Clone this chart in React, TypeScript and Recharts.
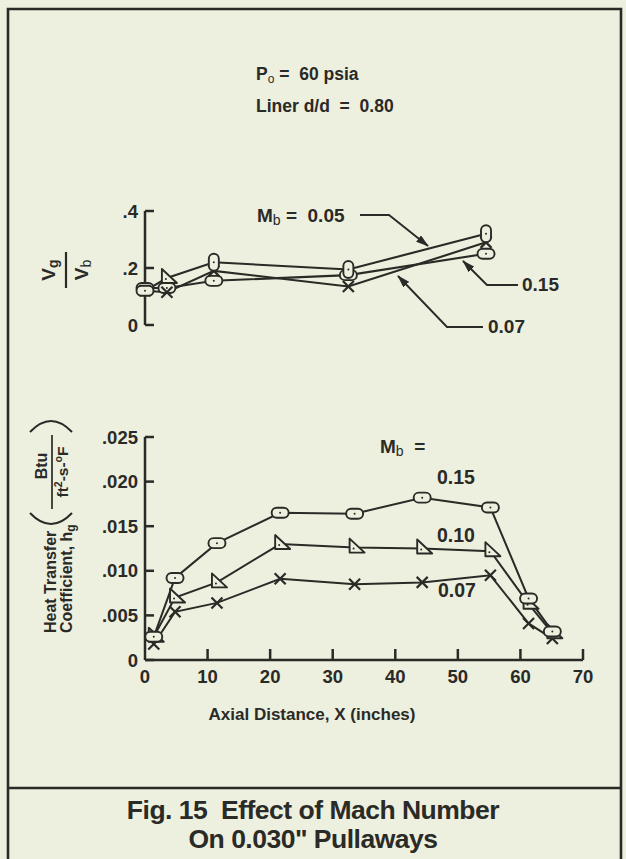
import React from 'react';
import { LineChart, Line, XAxis, YAxis } from 'recharts';

const INK = '#2a2a26';
const PAPER = '#edefdf';
const FONT = '"Liberation Sans", Arial, Helvetica, sans-serif';

// upper panel: Vg/Vb against axial distance
const topX = [0, 3.5, 11, 32.5, 54.5];
const topMb005 = [0.12, 0.165, 0.22, 0.195, 0.32];
const topMb007 = [0.12, 0.115, 0.19, 0.135, 0.29];
const topMb015 = [0.13, 0.13, 0.155, 0.175, 0.25];
const topYTicks = [0, 0.2, 0.4];

// lower panel: heat transfer coefficient hg
const botX = [1.4, 4.8, 11.5, 21.6, 33.5, 44.3, 55.2, 61.3, 65.1];
const botMb015 = [0.0026, 0.0092, 0.0131, 0.0165, 0.0164, 0.0182, 0.0171, 0.0069, 0.0032];
const botMb010 = [0.0026, 0.007, 0.0087, 0.013, 0.0126, 0.0125, 0.0122, 0.0063, 0.003];
const botMb007 = [0.0018, 0.0054, 0.0064, 0.0091, 0.0085, 0.0087, 0.0095, 0.0041, 0.0024];
const botYTicks = [0, 0.005, 0.01, 0.015, 0.02, 0.025];
const botXTicks = [0, 10, 20, 30, 40, 50, 60, 70];

const pts = (xs: number[], ys: number[]) => xs.map((x, i) => ({ x, y: ys[i] }));

const txt = { fontFamily: FONT, fontWeight: 700, fill: INK } as const;
const pre = { whiteSpace: 'pre' } as const;

// markers
const pillH = (p: any) => (
  <g key={`h${p.index}`}>
    <rect x={p.cx - 8.5} y={p.cy - 5} width={17} height={10} rx={5} fill={PAPER} stroke={INK} strokeWidth={1.9} />
    <circle cx={p.cx} cy={p.cy} r={1} fill={INK} />
  </g>
);
const pillV = (p: any) => (
  <g key={`v${p.index}`}>
    <rect x={p.cx - 5} y={p.cy - 8.5} width={10} height={17} rx={5} fill={PAPER} stroke={INK} strokeWidth={1.9} />
    <circle cx={p.cx} cy={p.cy} r={1} fill={INK} />
  </g>
);
const tri = (p: any) => (
  <g key={`t${p.index}`}>
    <path d={`M${p.cx - 5},${p.cy - 9} L${p.cx - 5},${p.cy + 5} L${p.cx + 10},${p.cy + 5} Z`} fill={PAPER} stroke={INK} strokeWidth={1.9} strokeLinejoin="round" />
    <circle cx={p.cx - 1} cy={p.cy + 1} r={1} fill={INK} />
  </g>
);
const cross = (p: any) => (
  <g key={`x${p.index}`} stroke={INK} strokeWidth={2.2}>
    <line x1={p.cx - 5.5} y1={p.cy - 5.5} x2={p.cx + 5.5} y2={p.cy + 5.5} />
    <line x1={p.cx - 5.5} y1={p.cy + 5.5} x2={p.cx + 5.5} y2={p.cy - 5.5} />
  </g>
);
// the 0.05 curve: flat oval at the first station, triangle at the second
const top005Dot = (p: any) => (p.index === 0 ? pillH(p) : p.index === 1 ? tri(p) : pillV(p));

const fmtTop = (v: number) => (v === 0 ? '0' : v.toFixed(1).replace(/^0/, ''));
const fmtBot = (v: number) => (v === 0 ? '0' : v.toFixed(3).replace(/^0/, ''));

const leftTick = (fmt: (v: number) => string) => (p: any) => (
  <g key={`yt${p.index}`}>
    <line x1={p.x} y1={p.y} x2={p.x + 9} y2={p.y} stroke={INK} strokeWidth={2.5} />
    <text x={p.x - 7} y={p.y} dy="0.36em" textAnchor="end" fontSize={18.5} {...txt}>
      {fmt(p.payload.value)}
    </text>
  </g>
);

const bottomTick = (p: any) => (
  <g key={`xt${p.index}`}>
    {p.payload.value !== 0 && (
      <line x1={p.x} y1={p.y} x2={p.x} y2={p.y - 11} stroke={INK} strokeWidth={2.5} />
    )}
    <text x={p.x} y={p.y + 23} textAnchor="middle" fontSize={18.5} {...txt}>
      {p.payload.value}
    </text>
  </g>
);

const lineProps = { type: 'linear' as const, dataKey: 'y', stroke: INK, activeDot: false, isAnimationActive: false };

export default function App() {
  return (
    <div style={{ position: 'absolute', left: 0, top: 0, width: 626, height: 859, background: PAPER, overflow: 'hidden' }}>
      <div style={{ position: 'absolute', left: 0, top: 195 }}>
        <LineChart width={626} height={145} margin={{ top: 16, right: 43, left: 85, bottom: 15 }}>
          <XAxis type="number" dataKey="x" domain={[0, 70]} hide />
          <YAxis
            type="number"
            domain={[0, 0.4]}
            ticks={topYTicks}
            interval={0}
            width={60}
            tickSize={0}
            tickMargin={0}
            axisLine={{ stroke: INK, strokeWidth: 2.5 }}
            tick={leftTick(fmtTop)}
          />
          <Line {...lineProps} data={pts(topX, topMb015)} strokeWidth={2.1} dot={pillH} />
          <Line {...lineProps} data={pts(topX, topMb007)} strokeWidth={2.1} dot={cross} />
          <Line {...lineProps} data={pts(topX, topMb005)} strokeWidth={2.1} dot={top005Dot} />
        </LineChart>
      </div>

      <div style={{ position: 'absolute', left: 0, top: 420 }}>
        <LineChart width={626} height={270} margin={{ top: 17, right: 43, left: 85, bottom: 0 }}>
          <XAxis
            type="number"
            dataKey="x"
            domain={[0, 70]}
            ticks={botXTicks}
            interval={0}
            height={30}
            tickSize={0}
            tickMargin={0}
            axisLine={{ stroke: INK, strokeWidth: 2.5 }}
            tick={bottomTick}
          />
          <YAxis
            type="number"
            domain={[0, 0.025]}
            ticks={botYTicks}
            interval={0}
            width={60}
            tickSize={0}
            tickMargin={0}
            axisLine={{ stroke: INK, strokeWidth: 2.5 }}
            tick={leftTick(fmtBot)}
          />
          <Line {...lineProps} data={pts(botX, botMb007)} strokeWidth={2} dot={cross} />
          <Line {...lineProps} data={pts(botX, botMb010)} strokeWidth={2} dot={tri} />
          <Line {...lineProps} data={pts(botX, botMb015)} strokeWidth={2} dot={pillH} />
        </LineChart>
      </div>

      <svg width={626} height={859} style={{ position: 'absolute', left: 0, top: 0, pointerEvents: 'none' }}>
        <defs>
          <marker id="arr" viewBox="0 0 13 8" refX={12} refY={4} markerWidth={13} markerHeight={8} markerUnits="userSpaceOnUse" orient="auto">
            <path d="M0,0 L13,4 L0,8 Z" fill={INK} />
          </marker>
        </defs>

        {/* frame */}
        <path d="M8,870 V9 H621 V870" fill="none" stroke={INK} strokeWidth={2.6} />
        <line x1={8} y1={788} x2={621} y2={788} stroke={INK} strokeWidth={2.6} />

        {/* conditions */}
        <text x={256} y={80} fontSize={17.5} style={pre} {...txt}>
          P<tspan fontSize={12} fontWeight={400} dy={3}>o</tspan>
          <tspan dy={-3}> =  60 psia</tspan>
        </text>
        <text x={256} y={112} fontSize={17.5} style={pre} {...txt}>Liner d/d  =  0.80</text>

        {/* upper panel annotations */}
        <text x={257} y={222} fontSize={19} style={pre} {...txt}>
          M<tspan fontSize={14} fontWeight={400} dy={3}>b</tspan>
          <tspan dy={-3}> =  0.05</tspan>
        </text>
        <polyline points="360,215 389,215 428,246" fill="none" stroke={INK} strokeWidth={1.9} markerEnd="url(#arr)" />
        <text x={522} y={291} fontSize={19} {...txt}>0.15</text>
        <polyline points="518,285 487,285 463,261" fill="none" stroke={INK} strokeWidth={1.9} markerEnd="url(#arr)" />
        <text x={488} y={333} fontSize={19} {...txt}>0.07</text>
        <polyline points="483,327 447,327 398,276" fill="none" stroke={INK} strokeWidth={1.9} markerEnd="url(#arr)" />

        {/* upper y label Vg / Vb */}
        <g transform="translate(66,270) rotate(-90)">
          <text x={0} y={-11} textAnchor="middle" fontSize={19} {...txt}>
            V<tspan fontSize={14} dy={3}>g</tspan>
          </text>
          <line x1={-18} y1={0} x2={18} y2={0} stroke={INK} strokeWidth={2.2} />
          <text x={0} y={22} textAnchor="middle" fontSize={19} {...txt}>
            V<tspan fontSize={14} fontWeight={400} dy={3}>b</tspan>
          </text>
        </g>

        {/* lower y label */}
        <g transform="rotate(-90)">
          <text x={-633} y={56} fontSize={16} {...txt}>Heat Transfer</text>
          <text x={-633} y={72} fontSize={16} {...txt}>
            Coefficient, h<tspan fontSize={12} dy={3}>g</tspan>
          </text>
          <path d="M-513,30 Q-535,51 -513,72" fill="none" stroke={INK} strokeWidth={2} />
          <text x={-466} y={47} textAnchor="middle" fontSize={16} {...txt}>Btu</text>
          <line x1={-509} y1={52} x2={-435} y2={52} stroke={INK} strokeWidth={1.7} />
          <text x={-472} y={68} textAnchor="middle" fontSize={15.5} {...txt}>
            ft<tspan fontSize={10.5} dy={-6}>2</tspan>
            <tspan dy={6}>-s-</tspan>
            <tspan fontSize={10.5} dy={-6}>o</tspan>
            <tspan dy={6}>F</tspan>
          </text>
          <path d="M-432,30 Q-410,51 -432,72" fill="none" stroke={INK} strokeWidth={2} />
        </g>

        {/* lower panel legend labels */}
        <text x={380} y={453} fontSize={19} style={pre} {...txt}>
          M<tspan fontSize={14} fontWeight={400} dy={3}>b</tspan>
          <tspan dy={-3}>  =</tspan>
        </text>
        <text x={437} y={484} fontSize={19.5} {...txt}>0.15</text>
        <text x={437} y={542} fontSize={19.5} {...txt}>0.10</text>
        <text x={438} y={597} fontSize={19.5} {...txt}>0.07</text>

        <text x={312} y={720} textAnchor="middle" fontSize={17} {...txt}>Axial Distance, X (inches)</text>

        {/* caption */}
        <text x={313} y={819} textAnchor="middle" fontSize={26.5} letterSpacing={-0.5} style={pre} {...txt}>
          Fig. 15  Effect of Mach Number
        </text>
        <text x={313} y={848} textAnchor="middle" fontSize={26.5} letterSpacing={-0.5} {...txt}>
          On 0.030" Pullaways
        </text>
      </svg>
    </div>
  );
}
